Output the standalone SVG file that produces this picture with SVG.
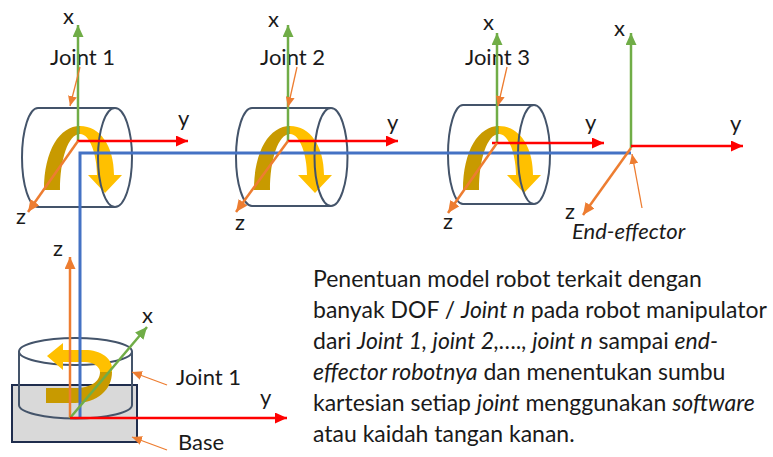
<svg xmlns="http://www.w3.org/2000/svg" width="773" height="457" viewBox="0 0 773 457">
  <defs>
    <marker id="hG" markerUnits="userSpaceOnUse" markerWidth="13" markerHeight="11" refX="12" refY="5.5" orient="auto"><path d="M0,0 L12,5.5 L0,11 Z" fill="#70AD47"/></marker>
    <marker id="hR" markerUnits="userSpaceOnUse" markerWidth="13" markerHeight="11" refX="12" refY="5.5" orient="auto"><path d="M0,0 L12,5.5 L0,11 Z" fill="#FF0000"/></marker>
    <marker id="hO" markerUnits="userSpaceOnUse" markerWidth="13" markerHeight="11" refX="12" refY="5.5" orient="auto"><path d="M0,0 L12,5.5 L0,11 Z" fill="#ED7D31"/></marker>
    <marker id="hL" markerUnits="userSpaceOnUse" markerWidth="11" markerHeight="9" refX="10" refY="4.5" orient="auto"><path d="M0,0 L10,4.5 L0,9 Z" fill="#ED7D31"/></marker>
    <!-- curved rotation arrow drawn around a joint whose x-axis sits at x=78 -->
    <g id="spin">
      <path d="M44,190 C44,150 60,126 80,126 L80,134 C68,134 60,160 60,190 Z" fill="#C89A00"/>
      <path d="M80,126 C100,126 114,146 114,175 L122,175 L105,193 L88,175 L97,175 C97,155 90,134 80,134 Z" fill="#FFC000"/>
    </g>
  </defs>
  <style>
    .cyl { fill: none; stroke: #44546A; stroke-width: 2; }
    .ax { fill: none; stroke-width: 2.5; }
    .g { stroke: #70AD47; marker-end: url(#hG); }
    .r { stroke: #FF0000; marker-end: url(#hR); }
    .o { stroke: #ED7D31; marker-end: url(#hO); }
    .lead { fill: none; stroke: #ED7D31; stroke-width: 1.3; marker-end: url(#hL); }
    .link { fill: none; stroke: #4472C4; stroke-width: 3; }
    text { font-family: Lato, "Liberation Sans", sans-serif; font-size: 22px; fill: #1a1a1a; }
    .it { font-style: italic; }
    .body text { font-size: 23px; }
  </style>

  <rect width="773" height="457" fill="#FFFFFF"/>

  <!-- Base with rotating joint 1 -->
  <g id="base">
    <rect x="12" y="385" width="125" height="57" fill="#D9D9D9" stroke="#1F2D4D" stroke-width="2"/>
    <text x="178" y="450">Base</text>
  </g>
  <g id="base-joint">
    <ellipse cx="75.5" cy="351.5" rx="56.5" ry="13.5" class="cyl"/>
    <path d="M19,351.5 L19,405 A56.5,13.5 0 0 0 132,405 L132,351.5" class="cyl"/>
    <path d="M100,372 C100,382 90,388 75,388 L46,388 L46,403 L75,403 C97,403 112,390 112,372 Z" fill="#C89A00"/>
    <path d="M112,372 C114,358 100,350 85,350 L63,350 L63,343 L47,356 L63,370 L63,362 L85,362 C92,362 100,366 100,372 Z" fill="#FFC000"/>
    <text x="176" y="385">Joint 1</text>
  </g>

  <!-- Revolute joints along the arm -->
  <g id="joint1">
    <use href="#spin"/>
    <path d="M38,108 L115,108 M38,207 L115,207 M38,108 A16,49.5 0 0 0 38,207" class="cyl"/>
    <ellipse cx="115" cy="157.5" rx="17" ry="49.5" class="cyl"/>
    <text x="50" y="65">Joint 1</text>
  </g>
  <g id="joint2">
    <use href="#spin" transform="translate(210,0)"/>
    <path d="M252,108 L331,108 M252,206 L331,206 M252,108 A16,49 0 0 0 252,206" class="cyl"/>
    <ellipse cx="331" cy="157" rx="16.5" ry="49" class="cyl"/>
    <text x="260" y="65">Joint 2</text>
  </g>
  <g id="joint3">
    <use href="#spin" transform="translate(419,0)"/>
    <path d="M463,105 L534,105 M463,204 L534,204 M463,105 A15,49.5 0 0 0 463,204" class="cyl"/>
    <ellipse cx="534" cy="154.5" rx="16" ry="49.5" class="cyl"/>
    <text x="465" y="65">Joint 3</text>
  </g>
  <g id="end-effector">
    <text x="572" y="239" class="it">End-effector</text>
  </g>

  <!-- Links, coordinate frames and label leaders -->
  <g id="connectors">
    <path d="M80,418 L80,153 L631,153" class="link"/>

    <path d="M78,141 L78,25" class="ax g"/>
    <path d="M77,141 L188,141" class="ax r"/>
    <path d="M78,141 L28,212" class="ax o"/>

    <path d="M288,141 L288,25" class="ax g"/>
    <path d="M288,141 L398,141" class="ax r"/>
    <path d="M288,141 L236,212" class="ax o"/>

    <path d="M497,143 L497,33" class="ax g"/>
    <path d="M492,143 L604,143" class="ax r"/>
    <path d="M497,143 L448,213" class="ax o"/>

    <path d="M631,148 L631,33" class="ax g"/>
    <path d="M631,146 L743,146" class="ax r"/>
    <path d="M631,148 L583,215" class="ax o" stroke-width="3"/>

    <path d="M70,418 L70,257" class="ax o"/>
    <path d="M70,418 L147,327" class="ax g"/>
    <path d="M70,418 L287,418" class="ax r"/>

    <path d="M80,67 L70,106" class="lead"/>
    <path d="M297,67 L288,107" class="lead"/>
    <path d="M507,67 L498,106" class="lead"/>
    <path d="M642,208 L632,154" class="lead"/>
    <path d="M167,385 L132,372" class="lead"/>
    <path d="M167,450 L132,437" class="lead"/>
  </g>

  <!-- Axis letters -->
  <g id="axis-labels">
    <text x="63" y="24">x</text>
    <text x="178" y="126">y</text>
    <text x="16" y="224">z</text>
    <text x="268" y="27">x</text>
    <text x="387" y="130">y</text>
    <text x="235" y="230">z</text>
    <text x="483" y="30">x</text>
    <text x="585" y="130">y</text>
    <text x="443" y="229">z</text>
    <text x="614" y="36">x</text>
    <text x="730" y="131">y</text>
    <text x="565" y="219">z</text>
    <text x="53" y="256">z</text>
    <text x="142" y="323">x</text>
    <text x="260" y="405">y</text>
  </g>

  <!-- Description -->
  <g id="description" class="body">
    <text x="313" y="287">Penentuan model robot terkait dengan</text>
    <text x="313" y="318">banyak DOF / <tspan class="it">Joint n</tspan> pada robot manipulator</text>
    <text x="313" y="349">dari <tspan class="it">Joint 1, joint 2,…., joint n</tspan> sampai <tspan class="it">end-</tspan></text>
    <text x="313" y="380"><tspan class="it">effector robotnya</tspan> dan menentukan sumbu</text>
    <text x="313" y="411">kartesian setiap <tspan class="it">joint</tspan> menggunakan <tspan class="it">software</tspan></text>
    <text x="313" y="442">atau kaidah tangan kanan.</text>
  </g>
</svg>
